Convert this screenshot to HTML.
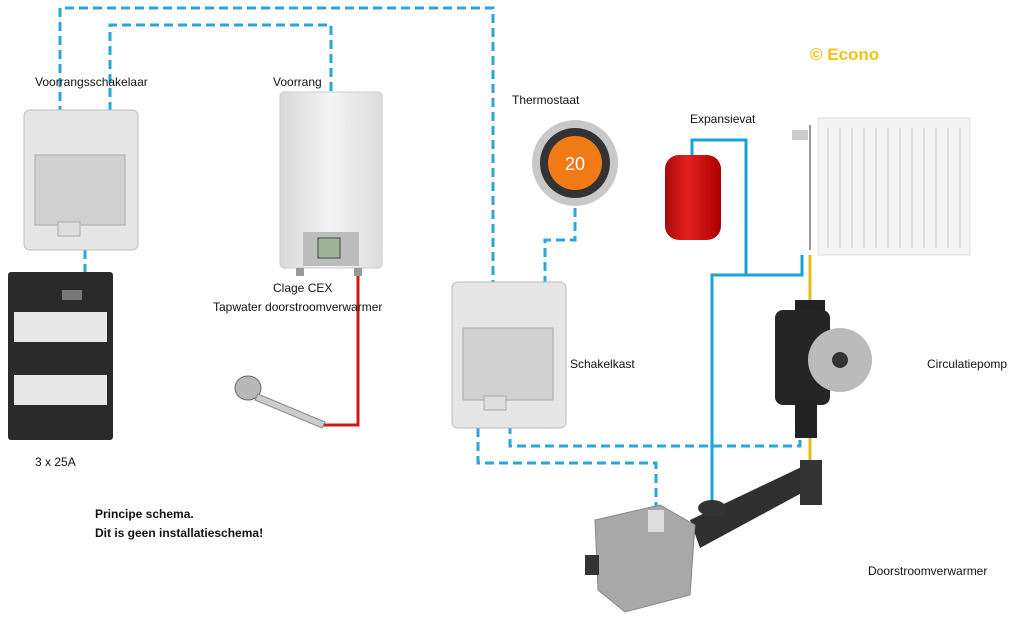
<!DOCTYPE html>
<html><head><meta charset="utf-8"><style>
html,body{margin:0;padding:0;background:#fff}
svg{display:block}
text{font-family:"Liberation Sans",sans-serif;font-size:12px;fill:#111}
</style></head><body>
<svg width="1024" height="626" viewBox="0 0 1024 626" xmlns="http://www.w3.org/2000/svg">
<defs>
<linearGradient id="g1" x1="0" x2="1"><stop offset="0" stop-color="#d8d8d8"/><stop offset="0.5" stop-color="#f4f4f4"/><stop offset="1" stop-color="#dcdcdc"/></linearGradient>
<linearGradient id="gr" x1="0" x2="1"><stop offset="0" stop-color="#a80a0a"/><stop offset="0.4" stop-color="#e52020"/><stop offset="1" stop-color="#a00"/></linearGradient>
</defs>
<!-- dashed wires -->
<g fill="none" stroke="#2aa7d8" stroke-width="3" stroke-dasharray="9,5">
<polyline points="60,115 60,8 493,8 493,285"/>
<polyline points="110,125 110,25 331,25 331,92"/>
<polyline points="85,250 85,278"/>
<polyline points="575,208 575,240 545,240 545,292"/>
<polyline points="510,425 510,446 800,446 800,436"/>
<polyline points="478,428 478,463 656,463 656,512"/>
</g>
<!-- solid pipes -->
<g fill="none" stroke="#1aa3d6" stroke-width="3">
<polyline points="692,155 692,140 746,140 746,275"/>
<polyline points="712,505 712,275 802,275 802,255"/>
</g>
<g fill="none" stroke="#e8b820" stroke-width="3">
<line x1="810" y1="255" x2="810" y2="305"/>
<line x1="810" y1="420" x2="810" y2="465"/>
</g>
<polyline points="358,268 358,425 322,425" fill="none" stroke="#d01818" stroke-width="3"/>

<!-- voorrangsschakelaar box -->
<rect x="24" y="110" width="114" height="140" rx="6" fill="#e6e6e6" stroke="#bbb"/>
<rect x="35" y="155" width="90" height="70" fill="#d0d0d0" stroke="#aaa"/>
<rect x="58" y="222" width="22" height="14" fill="#ddd" stroke="#aaa"/>
<!-- breaker panel -->
<rect x="8" y="272" width="105" height="168" rx="3" fill="#2a2a2a"/>
<rect x="14" y="312" width="93" height="30" fill="#e8e8e8"/>
<rect x="14" y="375" width="93" height="30" fill="#e8e8e8"/>
<rect x="62" y="290" width="20" height="10" fill="#777"/>

<!-- water heater -->
<rect x="280" y="92" width="102" height="176" rx="4" fill="url(#g1)" stroke="#ccc"/>
<rect x="303" y="232" width="56" height="34" fill="#bcbcbc"/>
<rect x="318" y="238" width="22" height="20" fill="#9fb59a" stroke="#444"/>
<rect x="296" y="268" width="8" height="8" fill="#999"/><rect x="354" y="268" width="8" height="8" fill="#999"/>
<!-- shower -->
<ellipse cx="248" cy="388" rx="13" ry="12" fill="#b8b8b8" stroke="#666"/>
<path d="M258,394 L325,422 L322,428 L255,400 Z" fill="#ccc" stroke="#888"/>

<!-- thermostat -->
<circle cx="575" cy="163" r="43" fill="#c8c8c8"/>
<circle cx="575" cy="163" r="35" fill="#333"/>
<circle cx="575" cy="163" r="27" fill="#f07a16"/>
<text x="575" y="170" text-anchor="middle" style="font-size:18px;fill:#fff">20</text>

<!-- schakelkast -->
<rect x="452" y="282" width="114" height="146" rx="6" fill="#e6e6e6" stroke="#bbb"/>
<rect x="463" y="328" width="90" height="72" fill="#d0d0d0" stroke="#aaa"/>
<rect x="484" y="396" width="22" height="14" fill="#ddd" stroke="#aaa"/>

<!-- expansievat -->
<rect x="665" y="155" width="56" height="85" rx="14" fill="url(#g1)"/>
<rect x="665" y="155" width="56" height="85" rx="14" fill="url(#gr)"/>

<!-- radiator -->
<rect x="818" y="118" width="152" height="137" fill="#f4f4f4" stroke="#ddd"/>
<g stroke="#dcdcdc" stroke-width="2">
<line x1="828" y1="128" x2="828" y2="248"/><line x1="840" y1="128" x2="840" y2="248"/><line x1="852" y1="128" x2="852" y2="248"/><line x1="864" y1="128" x2="864" y2="248"/><line x1="876" y1="128" x2="876" y2="248"/><line x1="888" y1="128" x2="888" y2="248"/><line x1="900" y1="128" x2="900" y2="248"/><line x1="912" y1="128" x2="912" y2="248"/><line x1="924" y1="128" x2="924" y2="248"/><line x1="936" y1="128" x2="936" y2="248"/><line x1="948" y1="128" x2="948" y2="248"/><line x1="960" y1="128" x2="960" y2="248"/>
</g>
<line x1="810" y1="125" x2="810" y2="250" stroke="#999" stroke-width="2"/>
<rect x="792" y="130" width="16" height="10" fill="#ccc"/>

<!-- pump -->
<rect x="795" y="300" width="30" height="18" fill="#222"/>
<rect x="775" y="310" width="55" height="95" rx="8" fill="#252525"/>
<circle cx="840" cy="360" r="32" fill="#bbb"/>
<circle cx="840" cy="360" r="8" fill="#333"/>
<rect x="795" y="400" width="22" height="38" fill="#222"/>

<!-- flow heater -->
<path d="M690,520 L812,462 L822,482 L700,548 Z" fill="#2f2f2f"/>
<rect x="800" y="460" width="22" height="45" fill="#333"/>
<ellipse cx="712" cy="508" rx="14" ry="8" fill="#333"/>
<path d="M595,520 L660,505 L695,525 L690,595 L625,612 L598,590 Z" fill="#a8a8a8" stroke="#888"/>
<rect x="648" y="510" width="16" height="22" fill="#ddd"/>
<rect x="585" y="555" width="14" height="20" fill="#333"/>

<!-- labels -->
<text x="35" y="86">Voorrangsschakelaar</text>
<text x="273" y="86">Voorrang</text>
<text x="273" y="292">Clage CEX</text>
<text x="213" y="311">Tapwater doorstroomverwarmer</text>
<text x="512" y="104">Thermostaat</text>
<text x="690" y="123">Expansievat</text>
<text x="570" y="368">Schakelkast</text>
<text x="927" y="368">Circulatiepomp</text>
<text x="868" y="575">Doorstroomverwarmer</text>
<text x="35" y="466">3 x 25A</text>
<text x="95" y="518" style="font-weight:bold">Principe schema.</text>
<text x="95" y="537" style="font-weight:bold">Dit is geen installatieschema!</text>
<text x="810" y="60" style="font-weight:bold;font-size:17px;fill:#f2c21a">© Econo</text>
</svg>
</body></html>
